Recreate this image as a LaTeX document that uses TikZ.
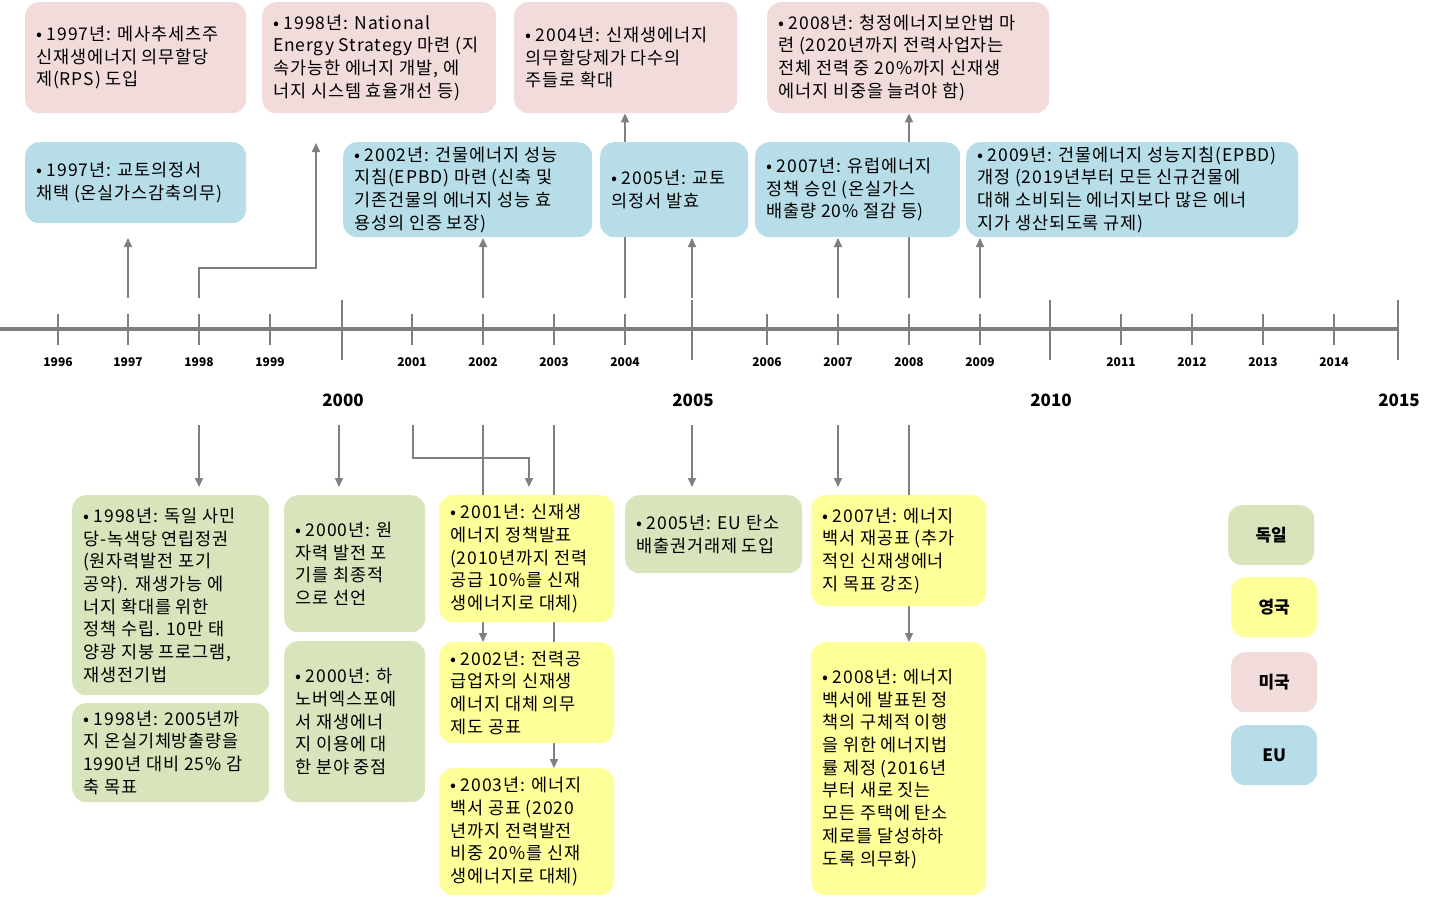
\documentclass[tikz,border=0pt]{standalone}
\usepackage{fontspec}
\setmainfont{Noto Sans CJK KR}
\newfontfamily\boxfont[LetterSpace=5]{Noto Sans CJK KR}
\usetikzlibrary{arrows.meta,backgrounds}
\definecolor{cpink}{HTML}{F2DCDB}
\definecolor{cblue}{HTML}{B7DEE8}
\definecolor{cgreen}{HTML}{D7E4BC}
\definecolor{cyel}{HTML}{FFFF99}
\definecolor{cline}{HTML}{7F7F7F}
\tikzset{
 boxs/.style={rounded corners=14pt, draw=none, inner sep=0pt},
 txt/.style={inner sep=0pt, align=left, font=\boxfont\fontsize{17.5}{22.7}\selectfont},
 conn/.style={draw=cline, line width=1.6pt},
 arr/.style={conn, -{Triangle[length=9pt,width=8pt]}},
 yr/.style={font=\bfseries\fontsize{12}{14}\selectfont},
 bigyr/.style={font=\bfseries\fontsize{17}{20}\selectfont},
 leg/.style={boxs, font=\bfseries\fontsize{17}{20}\selectfont, anchor=north west}
}
\newcommand{\mybox}[7]{%
 \node[boxs, fill=#2, minimum width={#5-#3}, minimum height={#6-#4}, anchor=north west] (#1) at (#3,#4) {};
 \node[txt, anchor=west] at ([xshift=11pt]#1.west) {#7};}
\begin{document}
\begin{tikzpicture}[x=1pt,y=-1pt]
\useasboundingbox (0,0) rectangle (1442,900);
% timeline
\draw[line width=4pt, cline] (0,329) -- (1398,329);
\foreach \x/\t in {58/1996,128/1997,199/1998,270/1999,412/2001,483/2002,554/2003,625/2004,767/2006,838/2007,909/2008,980/2009,1121/2011,1192/2012,1263/2013,1334/2014}{
 \draw[cline, line width=1.5pt] (\x,314) -- (\x,345);
 \node[yr] at (\x,362) {\t};}
\foreach \x/\t in {342/2000,692/2005,1050/2010,1398/2015}{
 \draw[cline, line width=1.5pt] (\x,300) -- (\x,360);
 \node[bigyr] at (\x+1,400) {\t};}
% top
\mybox{p1}{cpink}{25}{2}{246}{113}{• 1997년: 메사추세츠주\\신재생에너지 의무할당\\제(RPS) 도입}
\mybox{p2}{cpink}{262}{2}{496}{113}{• 1998년: National\\Energy Strategy 마련 (지\\속가능한 에너지 개발, 에\\너지 시스템 효율개선 등)}
\mybox{p3}{cpink}{514}{2}{737}{113}{• 2004년: 신재생에너지\\의무할당제가 다수의\\주들로 확대}
\mybox{p4}{cpink}{767}{2}{1049}{113}{• 2008년: 청정에너지보안법 마\\련 (2020년까지 전력사업자는\\전체 전력 중 20\%까지 신재생\\에너지 비중을 늘려야 함)}
\mybox{b1}{cblue}{25}{142}{246}{223}{• 1997년: 교토의정서\\채택 (온실가스감축의무)}
\mybox{b2}{cblue}{343}{142}{592}{237}{• 2002년: 건물에너지 성능\\지침(EPBD) 마련 (신축 및\\기존건물의 에너지 성능 효\\용성의 인증 보장)}
\mybox{b3}{cblue}{600}{142}{748}{237}{• 2005년: 교토\\의정서 발효}
\mybox{b4}{cblue}{755}{142}{960}{237}{• 2007년: 유럽에너지\\정책 승인 (온실가스\\배출량 20\% 절감 등)}
\mybox{b5}{cblue}{966}{142}{1298}{237}{• 2009년: 건물에너지 성능지침(EPBD)\\개정 (2019년부터 모든 신규건물에\\대해 소비되는 에너지보다 많은 에너\\지가 생산되도록 규제)}
% bottom
\mybox{g1}{cgreen}{72}{495}{269}{695}{• 1998년: 독일 사민\\당-녹색당 연립정권\\(원자력발전 포기\\공약). 재생가능 에\\너지 확대를 위한\\정책 수립. 10만 태\\양광 지붕 프로그램,\\재생전기법}
\mybox{g2}{cgreen}{72}{703}{269}{802}{• 1998년: 2005년까\\지 온실기체방출량을\\1990년 대비 25\% 감\\축 목표}
\mybox{g3}{cgreen}{284}{495}{425}{632}{• 2000년: 원\\자력 발전 포\\기를 최종적\\으로 선언}
\mybox{g4}{cgreen}{284}{641}{425}{802}{• 2000년: 하\\노버엑스포에\\서 재생에너\\지 이용에 대\\한 분야 중점}
\mybox{y1}{cyel}{439}{495}{614}{622}{• 2001년: 신재생\\에너지 정책발표\\(2010년까지 전력\\공급 10\%를 신재\\생에너지로 대체)}
\mybox{y2}{cyel}{439}{642}{614}{743}{• 2002년: 전력공\\급업자의 신재생\\에너지 대체 의무\\제도 공표}
\mybox{y3}{cyel}{439}{768}{614}{895}{• 2003년: 에너지\\백서 공표 (2020\\년까지 전력발전\\비중 20\%를 신재\\생에너지로 대체)}
\mybox{g5}{cgreen}{625}{495}{802}{573}{• 2005년: EU 탄소\\배출권거래제 도입}
\mybox{y4}{cyel}{811}{495}{986}{606}{• 2007년: 에너지\\백서 재공표 (추가\\적인 신재생에너\\지 목표 강조)}
\mybox{y5}{cyel}{811}{642}{986}{895}{• 2008년: 에너지\\백서에 발표된 정\\책의 구체적 이행\\을 위한 에너지법\\률 제정 (2016년\\부터 새로 짓는\\모든 주택에 탄소\\제로를 달성하하\\도록 의무화)}
% legend
\node[leg, fill=cgreen, minimum width=86pt, minimum height=60pt] (lg) at (1228,505) {독일};
\node[leg, fill=cyel, minimum width=86pt, minimum height=60pt] (ly) at (1231,577) {영국};
\node[leg, fill=cpink, minimum width=86pt, minimum height=60pt] (lp) at (1231,652) {미국};
\node[leg, fill=cblue, minimum width=86pt, minimum height=60pt] (lb) at (1231,725) {EU};
% connector coordinates
\foreach \x in {128,199,483,625,692,838,909,980}{\coordinate (u\x) at (\x,298);}
\foreach \x in {199,339,413,483,554,692,838,909}{\coordinate (d\x) at (\x,425);}
\coordinate (e1997) at (128,238);
\coordinate (e2002) at (483,238);
\coordinate (e2005) at (692,238);
\coordinate (e2007) at (838,238);
\coordinate (e2009) at (980,238);
\coordinate (e1998) at (316,143);
\begin{pgfonlayer}{background}
\draw[arr] (u128) -- (e1997);
\draw[arr] (u199) |- (316,268) -- (e1998);
\draw[arr] (u483) -- (e2002);
\draw[arr] (u625) -- (p3.south -| u625);
\draw[arr] (u692) -- (e2005);
\draw[arr] (u838) -- (e2007);
\draw[arr] (u909) -- (p4.south -| u909);
\draw[arr] (u980) -- (e2009);
\draw[arr] (d199) -- ([yshift=8pt]g1.north -| d199);
\draw[arr] (d339) -- ([yshift=8pt]g3.north -| d339);
\draw[arr] (d413) |- (529,458) -- ([yshift=8pt]y1.north -| 529,0);
\draw[arr] (d483) -- (y2.north -| d483);
\draw[arr] (d554) -- (y3.north -| d554);
\draw[arr] (d692) -- ([yshift=8pt]g5.north -| d692);
\draw[arr] (d838) -- ([yshift=8pt]y4.north -| d838);
\draw[arr] (d909) -- (y5.north -| d909);
\end{pgfonlayer}
\end{tikzpicture}
\end{document}
